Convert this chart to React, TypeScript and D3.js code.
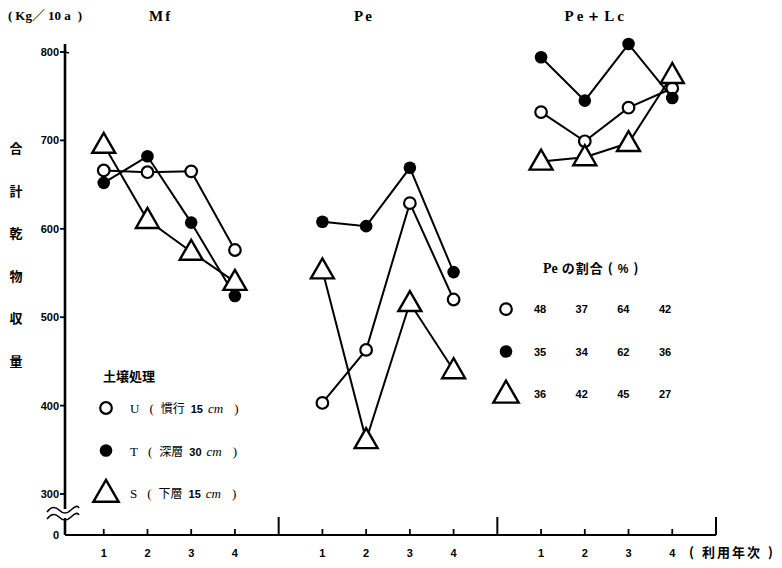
import React from 'react';
import * as d3 from 'd3';

// data
const groups = ['Mf', 'Pe', 'Pe＋Lc'];
const years = [1, 2, 3, 4];
const uYield = [[666, 664, 665, 576], [403, 463, 629, 520], [732, 699, 737, 759]];
const tYield = [[652, 682, 607, 524], [608, 603, 669, 551], [794, 745, 809, 748]];
const sYield = [[695, 610, 574, 540], [553, 361, 516, 440], [676, 681, 697, 774]];
const yTicks = [800, 700, 600, 500, 400, 300];
const peU = [48, 37, 64, 42];
const peT = [35, 34, 62, 36];
const peS = [36, 42, 45, 27];
const legendCodes = ['U', 'T', 'S'];
const legendNames = ['慣行', '深層', '下層'];
const legendDepth = [15, 30, 15];
const yTitle = ['合', '計', '乾', '物', '収', '量'];

const W = 782;
const H = 568;
const axisX = 65;
const baseY = 535;
const titleAt = [2.3, 6.95, 12.25];

const jp = '"Noto Sans CJK JP", sans-serif';
const serif = '"Liberation Serif", "DejaVu Serif", serif';
const sans = '"Liberation Sans", Arial, sans-serif';

function Marker({ kind, x, y, s = 1 }: { kind: string; x: number; y: number; s?: number }) {
  if (kind === 'U') return <circle cx={x} cy={y} r={5.8 * s} fill="#fff" stroke="#000" strokeWidth={2.2} />;
  if (kind === 'T') return <circle cx={x} cy={y} r={6.3 * s} fill="#000" />;
  return <path d={`M${x},${y - 12 * s}L${x - 11.5 * s},${y + 8 * s}L${x + 11.5 * s},${y + 8 * s}Z`} fill="#fff" stroke="#000" strokeWidth={2.4} />;
}

export default function App() {
  const x = d3.scaleLinear().domain([0, 15]).range([60, 716]);
  const y = d3.scaleLinear().domain([300, 800]).range([494, 52]);
  const pos = (g: number, i: number) => x(g * 5 + i + 1);
  const line = d3.line<[number, number]>().x(d => d[0]).y(d => d[1]);

  const series = [
    { kind: 'U', data: uYield },
    { kind: 'T', data: tYield },
    { kind: 'S', data: sYield },
  ];

  const tableX = d3.scaleLinear().domain([0, 3]).range([540, 665]);
  const tableY = d3.scaleBand().domain(['U', 'T', 'S']).range([288, 415]);
  const peRows = [
    { kind: 'U', vals: peU },
    { kind: 'T', vals: peT },
    { kind: 'S', vals: peS },
  ];

  return (
    <svg width={W} height={H} style={{ position: 'absolute', left: 0, top: 0, background: '#fff' }}>
      {/* unit and panel titles */}
      <text x={8} y={20} fontFamily={serif} fontSize={13} fontWeight="bold">
        (<tspan dx={3}>Kg</tspan><tspan fontFamily={jp} fontWeight="normal">／</tspan><tspan dx={3}>10 a</tspan><tspan dx={7}>)</tspan>
      </text>
      {groups.map((g, gi) => (
        <text key={g} x={x(titleAt[gi])} y={21} textAnchor="middle" fontFamily={serif} fontSize={15}
          fontWeight="bold" letterSpacing={gi === 2 ? 3 : 2}>{g}</text>
      ))}

      {/* y axis title */}
      {yTitle.map((c, i) => (
        <text key={c} x={16} y={153 + i * 42.5} textAnchor="middle" fontFamily={jp} fontSize={13} fontWeight="bold">{c}</text>
      ))}

      {/* y axis */}
      <line x1={axisX} x2={axisX} y1={44} y2={baseY} stroke="#000" strokeWidth={2.6} />
      {yTicks.map(t => (
        <g key={t}>
          <line x1={axisX - 5} x2={axisX} y1={y(t)} y2={y(t)} stroke="#000" strokeWidth={1.8} />
          <text x={axisX - 6} y={y(t) + 4} textAnchor="end" fontFamily={sans} fontSize={11} fontWeight="bold">{t}</text>
        </g>
      ))}
      <line x1={axisX} x2={axisX + 4} y1={y(800)} y2={y(800) + 1} stroke="#000" strokeWidth={1.6} />
      <text x={axisX - 6} y={baseY + 4} textAnchor="end" fontFamily={sans} fontSize={11} fontWeight="bold">0</text>
      {/* axis break */}
      <rect x={axisX - 3} y={509} width={6} height={9} fill="#fff" />
      <path d={`M${axisX - 18},${512} q6,-8 12,-2 t12,0 t8,-2`} fill="none" stroke="#000" strokeWidth={1.6} />
      <path d={`M${axisX - 18},${519} q6,-8 12,-2 t12,0 t8,-2`} fill="none" stroke="#000" strokeWidth={1.6} />

      {/* x axis */}
      <line x1={axisX} x2={x(15)} y1={baseY} y2={baseY} stroke="#000" strokeWidth={2.2} />
      {[5, 10, 15].map(s => (
        <line key={s} x1={x(s)} x2={x(s)} y1={baseY} y2={baseY - 18} stroke="#000" strokeWidth={2} />
      ))}
      {groups.map((g, gi) => years.map((yr, i) => (
        <g key={g + yr}>
          <line x1={pos(gi, i)} x2={pos(gi, i)} y1={baseY} y2={baseY - 6} stroke="#000" strokeWidth={1.8} />
          <text x={pos(gi, i)} y={557} textAnchor="middle" fontFamily={sans} fontSize={11} fontWeight="bold">{yr}</text>
        </g>
      )))}
      <text x={689} y={557} fontFamily={jp} fontSize={13} fontWeight="bold">
        (<tspan dx={8} letterSpacing={2}>利用年次</tspan><tspan dx={6}>)</tspan>
      </text>

      {/* series lines */}
      {series.map(s => s.data.map((vals, gi) => (
        <path key={s.kind + gi}
          d={line(vals.map((v, i) => [pos(gi, i), y(v)] as [number, number])) || ''}
          fill="none" stroke="#000" strokeWidth={2} />
      )))}
      {series.map(s => s.data.map((vals, gi) => vals.map((v, i) => (
        <Marker key={s.kind + gi + i} kind={s.kind} x={pos(gi, i)} y={y(v)} />
      ))))}

      {/* legend */}
      <text x={103} y={381} fontFamily={jp} fontSize={13} fontWeight="bold">土壌処理</text>
      {legendCodes.map((k, i) => (
        <g key={k}>
          <Marker kind={k} x={106} y={408 + i * 42.5} s={k === 'S' ? 1.1 : 1} />
          <text x={130} y={413 + i * 42.5} fontFamily={serif} fontSize={13}>
            {k}
            <tspan dx={10}>(</tspan>
            <tspan dx={7} fontFamily={jp} fontSize={12}>{legendNames[i]}</tspan>
            <tspan dx={6} fontFamily={sans} fontSize={11} fontWeight="bold">{legendDepth[i]}</tspan>
            <tspan dx={5} fontStyle="italic">cm</tspan>
            <tspan dx={11}>)</tspan>
          </text>
        </g>
      ))}

      {/* Pe share table */}
      <text x={543} y={273} fontFamily={serif} fontSize={14} fontWeight="bold">
        Pe<tspan dx={4} fontFamily={jp} fontSize={13} letterSpacing={1}>の割合</tspan>
        <tspan dx={4} fontFamily={jp} fontSize={13}>(</tspan>
        <tspan dx={5} fontFamily={sans} fontSize={12}>%</tspan>
        <tspan dx={5} fontFamily={jp} fontSize={13}>)</tspan>
      </text>
      {peRows.map(r => (
        <g key={r.kind}>
          <Marker kind={r.kind} x={506} y={(tableY(r.kind) || 0) + tableY.bandwidth() / 2} s={r.kind === 'S' ? 1.1 : 1} />
          {r.vals.map((v, i) => (
            <text key={i} x={tableX(i)} y={(tableY(r.kind) || 0) + tableY.bandwidth() / 2 + 4}
              textAnchor="middle" fontFamily={sans} fontSize={11} fontWeight="bold">{v}</text>
          ))}
        </g>
      ))}
    </svg>
  );
}
